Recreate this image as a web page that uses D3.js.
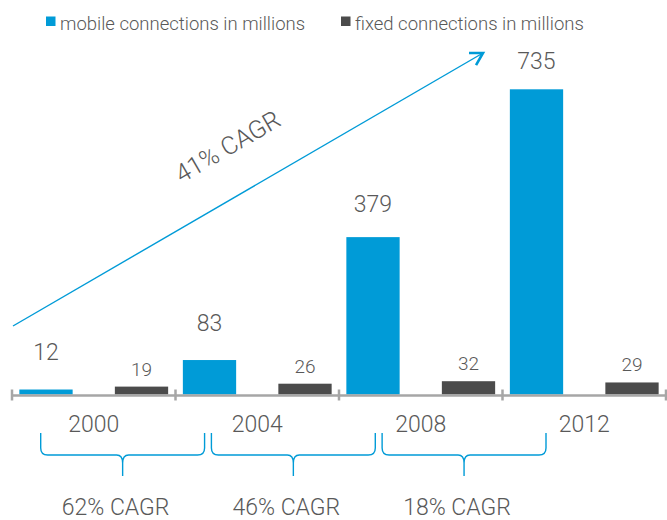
<!DOCTYPE html>
<html>
<head>
<meta charset="utf-8">
<script src="https://cdn.jsdelivr.net/npm/d3@7"></script>
<style>
  body { margin: 0; background: #fff; }
  text { font-family: Roboto, "Liberation Sans", sans-serif; font-weight: 300; fill: #595959; }
</style>
</head>
<body>
<div id="chart"></div>
<script>
// data
var years = ['2000', '2004', '2008', '2012'];
var mobile = [12, 83, 379, 735];
var fixed = [19, 26, 32, 29];
var seriesNames = ['mobile connections in millions', 'fixed connections in millions'];
var periodCagr = ['62% CAGR', '46% CAGR', '18% CAGR'];
var totalCagr = '41% CAGR';

var width = 667, height = 520;
var BLUE = '#009bd7', GREY = '#4b4b4b', AXIS = '#a6a6a6';

var svg = d3.select('#chart').append('svg')
  .attr('width', width).attr('height', height);

// scales
var x = d3.scaleBand().domain(years).range([12, 666]).padding(0);
var inner = d3.scaleBand().domain(['mobile', 'fixed'])
  .range([0, x.bandwidth()]).paddingInner(0.442).paddingOuter(0.077);
var y = d3.scaleLinear().domain([0, 735]).range([394.5, 89.3]);

var rows = years.map(function(yr, i) {
  return { year: yr, mobile: mobile[i], fixed: fixed[i] };
});

// bars
var groups = svg.append('g').selectAll('g')
  .data(rows).enter().append('g')
  .attr('transform', function(d) { return 'translate(' + x(d.year) + ',0)'; });

groups.append('rect')
  .attr('x', inner('mobile'))
  .attr('width', inner.bandwidth())
  .attr('y', function(d) { return y(d.mobile); })
  .attr('height', function(d) { return y(0) - y(d.mobile); })
  .attr('fill', BLUE);

groups.append('rect')
  .attr('x', inner('fixed'))
  .attr('width', inner.bandwidth())
  .attr('y', function(d) { return y(d.fixed); })
  .attr('height', function(d) { return y(0) - y(d.fixed); })
  .attr('fill', GREY);

// value labels
groups.append('text')
  .attr('x', inner('mobile') + inner.bandwidth() / 2)
  .attr('y', function(d) { var t = y(d.mobile); return t - (17 + 0.033 * t); })
  .attr('text-anchor', 'middle')
  .style('font-size', '23px')
  .text(function(d) { return d.mobile; });

groups.append('text')
  .attr('x', inner('fixed') + inner.bandwidth() / 2)
  .attr('y', function(d) { return y(d.fixed) - 11; })
  .attr('text-anchor', 'middle')
  .style('font-size', '19px')
  .text(function(d) { return d.fixed; });

// axis line + ticks at group boundaries
var axisY = 395.5;
svg.append('line')
  .attr('x1', x.range()[0]).attr('x2', x.range()[1])
  .attr('y1', axisY).attr('y2', axisY)
  .attr('stroke', AXIS).attr('stroke-width', 2.5);

var tickPos = years.map(function(d) { return x(d); }).concat([x.range()[1]]);
svg.append('g').selectAll('line')
  .data(tickPos).enter().append('line')
  .attr('x1', function(d) { return d; }).attr('x2', function(d) { return d; })
  .attr('y1', axisY - 6).attr('y2', axisY + 5)
  .attr('stroke', AXIS).attr('stroke-width', 2.5);

// year labels
svg.append('g').selectAll('text')
  .data(years).enter().append('text')
  .attr('x', function(d) { return x(d) + x.bandwidth() / 2; })
  .attr('y', 432)
  .attr('text-anchor', 'middle')
  .style('font-size', '23px')
  .text(function(d) { return d; });

// braces under periods
var braceX = d3.scaleBand().domain(periodCagr).range([40.7, 546]).paddingInner(0.04);
var bTop = 433, bMid = 455, bTip = 476;

function bracePath(x1, x2) {
  var m = (x1 + x2) / 2;
  return 'M' + x1 + ',' + bTop +
    'L' + x1 + ',' + (bMid - 7) +
    'Q' + x1 + ',' + bMid + ' ' + (x1 + 7) + ',' + bMid +
    'L' + (m - 6) + ',' + bMid +
    'Q' + m + ',' + bMid + ' ' + m + ',' + (bMid + 8) +
    'L' + m + ',' + bTip +
    'M' + m + ',' + (bMid + 8) +
    'Q' + m + ',' + bMid + ' ' + (m + 6) + ',' + bMid +
    'L' + (x2 - 7) + ',' + bMid +
    'Q' + x2 + ',' + bMid + ' ' + x2 + ',' + (bMid - 7) +
    'L' + x2 + ',' + bTop;
}

svg.append('g').selectAll('path')
  .data(periodCagr).enter().append('path')
  .attr('d', function(d) { return bracePath(braceX(d), braceX(d) + braceX.bandwidth()); })
  .attr('fill', 'none').attr('stroke', BLUE).attr('stroke-width', 1.4);

svg.append('g').selectAll('text')
  .data(periodCagr).enter().append('text')
  .attr('x', function(d) { return braceX(d) + braceX.bandwidth() / 2 - 7; })
  .attr('y', 515)
  .attr('text-anchor', 'middle')
  .style('font-size', '23px')
  .text(function(d) { return d; });

// overall growth arrow
var a0 = [13, 326], a1 = [483, 53];
svg.append('line')
  .attr('x1', a0[0]).attr('y1', a0[1]).attr('x2', a1[0]).attr('y2', a1[1])
  .attr('stroke', BLUE).attr('stroke-width', 1.4);

var ang = Math.atan2(a1[1] - a0[1], a1[0] - a0[0]);
var headLen = 14, spread = Math.PI / 6;
var headPts = [
  [a1[0] - headLen * Math.cos(ang - spread), a1[1] - headLen * Math.sin(ang - spread)],
  a1,
  [a1[0] - headLen * Math.cos(ang + spread), a1[1] - headLen * Math.sin(ang + spread)]
];
svg.append('path')
  .attr('d', d3.line()(headPts))
  .attr('fill', 'none').attr('stroke', BLUE).attr('stroke-width', 2.6)
  .attr('stroke-linejoin', 'miter');

svg.append('text')
  .attr('transform', 'translate(232,154) rotate(' + (ang * 180 / Math.PI) + ')')
  .attr('text-anchor', 'middle')
  .style('font-size', '25px')
  .text(totalCagr);

// legend
var legend = svg.append('g');
var legendX = [46, 341];
var legendColors = [BLUE, GREY];
seriesNames.forEach(function(name, i) {
  legend.append('rect')
    .attr('x', legendX[i]).attr('y', 16.5)
    .attr('width', 9.5).attr('height', 9.5)
    .attr('fill', legendColors[i]);
  legend.append('text')
    .attr('x', legendX[i] + 14).attr('y', 30)
    .style('font-size', '18.5px')
    .text(name);
});
</script>
</body>
</html>
